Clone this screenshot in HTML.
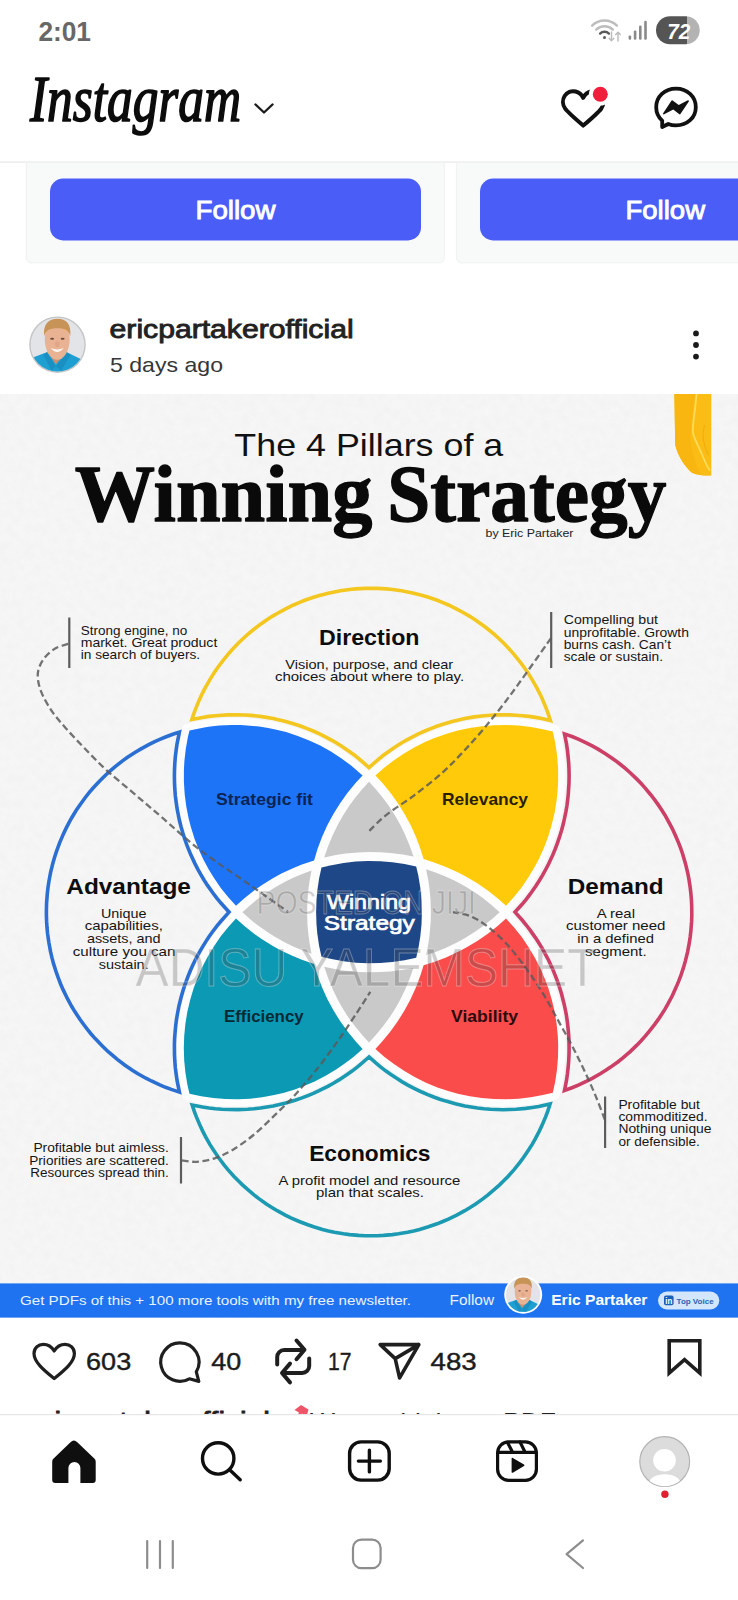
<!DOCTYPE html>
<html lang="en"><head><meta charset="utf-8"><title>Instagram</title>
<style>
html,body{margin:0;padding:0;background:#fff}
body{width:738px;height:1600px;overflow:hidden;position:relative;font-family:"Liberation Sans",sans-serif}
svg{position:absolute;left:0;top:0;display:block}
text{font-family:"Liberation Sans",sans-serif}
text.serif{font-family:"Liberation Serif",serif}
</style></head><body>
<svg width="738" height="1600" viewBox="0 0 738 1600">
<defs>
<clipPath id="imgclip"><rect x="0" y="394" width="738" height="924"/></clipPath>
<clipPath id="capclip"><rect x="0" y="1395" width="738" height="19.2"/></clipPath>
<clipPath id="batclip"><rect x="656" y="16.2" width="43.7" height="28.1" rx="14.05"/></clipPath>
<filter id="paper" x="0" y="0" width="100%" height="100%"><feTurbulence type="fractalNoise" baseFrequency="0.12" numOctaves="4" seed="7"/><feColorMatrix type="matrix" values="0 0 0 0 1  0 0 0 0 1  0 0 0 0 1  0.55 0 0 0 -0.12"/></filter>
</defs>

<g id="statusbar">
<text x="38.4" y="40.8" font-size="27.6" font-weight="700" fill="#676767" textLength="52.6" lengthAdjust="spacingAndGlyphs">2:01</text>
<g fill="none" stroke-linecap="round"><path d="M592.1,25.6 A17.5,17.5 0 0 1 616.9,25.6" stroke="#bdbdbd" stroke-width="2.4"/><path d="M596.2,29.6 A11.8,11.8 0 0 1 612.8,29.6" stroke="#bdbdbd" stroke-width="2.4"/><path d="M600.1,33.6 A6.2,6.2 0 0 1 608.9,33.6" stroke="#5a5a5a" stroke-width="2.4"/></g><circle cx="604.5" cy="37.6" r="1.5" fill="#5a5a5a"/>
<g fill="none" stroke="#bdbdbd" stroke-width="1.5" stroke-linecap="round" stroke-linejoin="round"><path d="M611.5,32 V40.5 M609.3,38.4 L611.5,40.8 L613.7,38.4"/><path d="M618,41 V32.5 M615.8,34.6 L618,32.2 L620.2,34.6"/></g>
<g fill="#8a8a8a"><rect x="628.6" y="35.4" width="2.6" height="4.4" rx="1.2"/><rect x="633.8" y="30.4" width="2.6" height="9.4" rx="1.2"/><rect x="639" y="25.6" width="2.6" height="14.2" rx="1.2"/><rect x="644.2" y="20.8" width="2.6" height="19" rx="1.2"/></g>
<g clip-path="url(#batclip)"><rect x="656" y="16" width="31" height="29" fill="#555555"/><rect x="687" y="16" width="13" height="29" fill="#b3b3b3"/></g>
<text x="667.2" y="38.6" font-size="22.5" font-weight="700" fill="#ffffff" textLength="23" lengthAdjust="spacingAndGlyphs" font-style="italic">72</text>
</g>
<g id="header">
<g transform="translate(0,120.6) scale(1,1.14) translate(0,-120.6)"><text x="30" y="120.6" font-size="57" font-weight="400" fill="#0c0c0c" textLength="211" lengthAdjust="spacingAndGlyphs" font-style="italic" class="serif" stroke="#0c0c0c" stroke-width="1.5" stroke-linejoin="round">Instagram</text></g>
<path d="M255.5,104.5 L264,112.5 L272.5,104.5" fill="none" stroke="#1a1a1a" stroke-width="2.4" stroke-linecap="round" stroke-linejoin="round"/>
<path d="M583.2,125.6 C583.2,125.6 568,112.6 565.2,108.7 C562.4,104.9 562.3,99.6 564.6,96 C567,92.2 571.5,90.5 575.6,91.5 C579,92.3 581.6,94.6 583.2,97.8 C584.8,94.6 587.4,92.3 590.8,91.5 C594.9,90.5 599.4,92.2 601.8,96 C604.1,99.6 604,104.9 601.2,108.7 C598.4,112.6 583.2,125.6 583.2,125.6 Z" fill="none" stroke="#111" stroke-width="4" stroke-linejoin="round"/>
<circle cx="600.3" cy="94.2" r="11.4" fill="#fff"/><circle cx="600.3" cy="94.2" r="7.5" fill="#f01f3c"/>
<path d="M676,88.6 C664.8,88.6 656.2,96.6 656.2,107.2 C656.2,112.6 658.4,117.2 662.2,120.6 L662.2,127 L668.2,124 C670.6,124.9 673.2,125.4 676,125.4 C687.2,125.4 695.8,117.6 695.8,107.2 C695.8,96.6 687.2,88.6 676,88.6 Z" fill="none" stroke="#111" stroke-width="3.8" stroke-linejoin="round"/>
<path d="M663.8,113.6 L672.2,101 L678.6,105.9 L688.2,101 L679.8,113.6 L673.4,108.7 Z" fill="#111" stroke="#111" stroke-width="1.5" stroke-linejoin="round"/>
<rect x="0" y="161.4" width="738" height="1.4" fill="#ebebeb"/>
</g>
<g id="cards">
<path d="M26.3,162.5 V257.9 a5,5 0 0 0 5,5 H439.3 a5,5 0 0 0 5,-5 V162.5 Z" fill="#f8f9f9" stroke="#f0f1f1" stroke-width="1"/>
<path d="M456.4,162.5 V257.9 a5,5 0 0 0 5,5 H760 V162.5 Z" fill="#f8f9f9" stroke="#f0f1f1" stroke-width="1"/>
<rect x="50" y="178.6" width="371" height="61.8" rx="13" fill="#4a5df7"/>
<rect x="480" y="178.6" width="300" height="61.8" rx="13" fill="#4a5df7"/>
<text x="195.5" y="219" font-size="26.5" font-weight="400" fill="#fff" textLength="80" lengthAdjust="spacingAndGlyphs" stroke="#fff" stroke-width="0.9">Follow</text>
<text x="625.5" y="219" font-size="26.5" font-weight="400" fill="#fff" textLength="79.5" lengthAdjust="spacingAndGlyphs" stroke="#fff" stroke-width="0.9">Follow</text>
</g>
<g id="posthead">
<clipPath id="avc1"><circle cx="0" cy="0" r="0.951"/></clipPath><circle cx="57.5" cy="344.7" r="28.3" fill="#c4c4c4"/><g transform="translate(57.5,344.7) scale(28.3)" clip-path="url(#avc1)"><rect x="-1" y="-1" width="2" height="2" fill="#e2e4e8"/><path d="M-1.05,0.62 L-0.87,0.45 L-0.38,0.27 L0.33,0.27 L0.80,0.50 L1.05,0.70 V1.1 H-1.05 Z" fill="#1e9fd2"/><path d="M-0.38,0.27 L-0.06,0.78 L-0.22,0.90 L-0.50,0.36 Z" fill="#1a90c2"/><path d="M0.33,0.27 L-0.06,0.78 L0.14,0.90 L0.46,0.36 Z" fill="#1a90c2"/><path d="M-0.30,0.20 L-0.32,0.30 L-0.06,0.70 L0.27,0.30 L0.26,0.20 Z" fill="#c98f72"/><ellipse cx="-0.01" cy="-0.19" rx="0.44" ry="0.72" fill="#e8b293"/><path d="M-0.47,-0.30 C-0.52,-0.75 -0.30,-0.92 0.0,-0.92 C0.30,-0.92 0.50,-0.75 0.45,-0.30 C0.40,-0.50 0.30,-0.58 0.0,-0.58 C-0.30,-0.58 -0.42,-0.50 -0.47,-0.30 Z" fill="#c79356"/><ellipse cx="-0.19" cy="-0.21" rx="0.07" ry="0.035" fill="#6b4a3a"/><ellipse cx="0.18" cy="-0.21" rx="0.07" ry="0.035" fill="#6b4a3a"/><ellipse cx="-0.01" cy="-0.02" rx="0.08" ry="0.10" fill="#e0a586"/><path d="M-0.24,0.12 Q-0.01,0.22 0.22,0.12 Q-0.01,0.40 -0.24,0.12 Z" fill="#fbf6f2"/></g>
<text x="109.6" y="337.8" font-size="25" font-weight="400" fill="#222" textLength="244" lengthAdjust="spacingAndGlyphs" stroke="#222" stroke-width="0.85">ericpartakerofficial</text>
<text x="110" y="371.6" font-size="21" font-weight="400" fill="#363636" textLength="113" lengthAdjust="spacingAndGlyphs">5 days ago</text>
<g fill="#1a1a1a"><circle cx="696" cy="333.4" r="2.9"/><circle cx="696" cy="345" r="2.9"/><circle cx="696" cy="356.6" r="2.9"/></g>
</g>
<g id="infographic" clip-path="url(#imgclip)">
<rect x="0" y="394" width="738" height="924" fill="#f3f3f3"/>
<rect x="0" y="394" width="738" height="924" filter="url(#paper)" opacity="0.9"/>
<path d="M674.4,394 H711.3 V475.4 C704,476.3 697.5,475.4 691.6,472.6 C684.5,466 678.2,456.5 675.2,445 Z" fill="#fbbc16"/>
<path d="M674.4,394 H695 C693.5,410 691,425 690.5,436 C690,448 695,462 700.5,474.8 C697,474.6 694,473.8 691.6,472.6 C684.5,466 678.2,456.5 675.2,445 Z" fill="#f9b510"/>
<path d="M696.6,394 C695.6,406 693.2,420 692.8,430 C692.4,437 697.2,441.7 703.7,458.5 C705.5,463 707.5,467 709.5,470" fill="none" stroke="#ffdc55" stroke-width="1.8" stroke-linecap="round"/>
<path d="M704.5,425 C701.5,436 703.5,446 708.5,455" fill="none" stroke="#eeaa06" stroke-width="1.1" opacity=".8"/>
<text x="234.3" y="455.6" font-size="31.5" font-weight="400" fill="#111" textLength="269" lengthAdjust="spacingAndGlyphs">The 4 Pillars of a</text>
<text x="74.8" y="520.6" font-size="80" font-weight="700" fill="#0a0a0a" textLength="297.5" lengthAdjust="spacingAndGlyphs" class="serif" stroke="#0a0a0a" stroke-width="1.3" stroke-linejoin="round">Winning</text>
<text x="387.3" y="520.6" font-size="80" font-weight="700" fill="#0a0a0a" textLength="279" lengthAdjust="spacingAndGlyphs" class="serif" stroke="#0a0a0a" stroke-width="1.3" stroke-linejoin="round">Strategy</text>
<text x="485.5" y="537.3" font-size="11.5" font-weight="400" fill="#222" textLength="88" lengthAdjust="spacingAndGlyphs">by Eric Partaker</text>
<path d="M181.0,735.1 178.7,747.6 177.3,760.2 176.6,772.9 176.7,782.5 177.5,795.2 179.2,807.8 181.0,817.2 184.1,829.6 188.0,841.6 192.6,853.5 198.1,865.0 202.7,873.4 209.4,884.1 216.8,894.5 224.8,904.3 232.1,912.1 222.8,922.4 214.9,932.3 207.6,942.8 201.1,953.7 195.3,965.0 190.2,976.7 185.9,988.7 182.4,1000.9 179.7,1013.3 177.9,1025.9 176.8,1038.6 176.6,1051.3 177.3,1064.1 178.7,1076.7 180.3,1086.1 181.7,1092.3 183.2,1098.4 183.9,1099.5 185.1,1100.1 193.6,1102.2 206.2,1104.4 218.8,1105.9 231.5,1106.5 244.3,1106.3 256.9,1105.3 269.5,1103.4 282.0,1100.7 294.2,1097.2 306.1,1093.0 317.8,1087.9 329.1,1082.1 340.0,1075.5 350.5,1068.3 360.5,1060.4 369.0,1052.7 380.0,1062.4 390.0,1070.2 400.6,1077.2 411.6,1083.6 423.0,1089.2 434.8,1094.1 446.8,1098.2 459.1,1101.5 471.6,1103.9 484.2,1105.6 496.9,1106.4 509.7,1106.4 522.4,1105.6 535.0,1103.9 541.2,1102.8 550.5,1100.7 557.3,1098.9 558.6,1098.1 559.2,1097.0 561.0,1089.2 562.8,1079.8 563.7,1073.5 565.0,1060.9 565.4,1048.2 565.0,1035.5 563.7,1022.8 561.7,1010.2 558.8,997.9 555.1,985.7 550.6,973.8 545.4,962.2 539.4,951.0 532.6,940.2 525.2,929.8 517.2,920.0 509.9,912.1 517.2,904.3 525.2,894.5 532.6,884.1 539.4,873.3 545.4,862.1 550.6,850.5 555.1,838.6 558.8,826.4 561.7,814.1 563.7,801.5 565.0,788.8 565.4,776.1 565.0,763.4 563.7,750.8 562.3,741.4 561.0,735.1 559.2,727.3 558.5,726.1 557.3,725.4 550.5,723.6 541.2,721.5 535.0,720.4 522.4,718.7 509.7,717.9 497.0,717.9 484.3,718.7 471.7,720.3 459.1,722.8 446.8,726.1 434.8,730.2 423.0,735.1 411.6,740.7 400.6,747.1 390.0,754.1 380.0,761.9 369.0,771.6 358.0,761.9 347.9,754.1 342.7,750.5 334.7,745.4 323.5,739.2 312.0,733.8 303.2,730.2 297.2,728.1 285.0,724.4 272.6,721.5 263.2,719.9 256.9,719.0 247.4,718.2 237.9,717.8 231.5,717.8 222.0,718.2 212.5,719.0 206.2,719.9 193.7,722.1 184.4,724.5 183.2,725.9Z" fill="#fdfdfd"/>
<path d="M550.4,720.5 547.9,712.9 545.7,707.1 542.1,698.6 539.5,693.1 536.7,687.6 532.1,679.6 527.2,671.8 523.7,666.7 520.0,661.8 514.2,654.6 508.1,647.7 503.8,643.3 499.4,639.0 494.9,634.9 487.8,629.0 482.9,625.3 475.4,620.0 470.2,616.6 464.9,613.5 456.8,609.1 448.5,605.0 442.9,602.6 437.2,600.3 428.5,597.3 422.6,595.5 413.7,593.2 407.6,591.9 401.6,590.8 392.5,589.5 386.4,588.9 377.1,588.4 371.0,588.3 364.9,588.4 355.6,588.9 349.5,589.5 340.4,590.8 334.4,591.9 328.3,593.2 319.4,595.5 313.5,597.3 304.8,600.3 299.1,602.6 293.5,605.0 285.2,609.1 277.1,613.5 271.8,616.6 266.6,620.0 259.1,625.3 254.2,629.0 249.5,632.9 244.8,637.0 238.2,643.3 231.8,650.0 227.8,654.6 222.0,661.8 218.3,666.7 214.8,671.8 209.9,679.6 205.3,687.6 202.5,693.1 198.6,701.4 196.3,707.1 194.1,712.9 191.9,719.4 202.5,717.4 208.9,716.4 215.4,715.7 221.8,715.2 228.2,714.9 237.9,714.8 244.4,715.0 250.8,715.4 257.3,716.0 263.7,716.9 273.2,718.5 279.5,719.9 285.8,721.5 295.1,724.2 301.2,726.3 307.2,728.6 313.2,731.0 319.1,733.7 324.9,736.6 330.6,739.6 336.2,742.8 341.7,746.2 349.7,751.7 354.9,755.5 359.9,759.6 369.0,767.5 378.1,759.6 383.1,755.5 388.3,751.7 396.3,746.2 401.8,742.8 407.4,739.6 413.1,736.6 418.9,733.7 424.8,731.0 430.8,728.6 436.8,726.3 442.9,724.2 452.2,721.5 458.5,719.9 464.8,718.5 474.3,716.9 484.0,715.7 490.4,715.2 496.8,714.9 503.3,714.8 509.8,714.9 516.2,715.2 522.6,715.7 529.1,716.4 535.5,717.4 541.8,718.5Z" fill="none" stroke="#f3c71f" stroke-width="3.6" stroke-linejoin="miter" stroke-miterlimit="12"/>
<path d="M174.2,733.8 165.5,737.0 159.8,739.4 154.2,741.9 148.7,744.7 140.6,749.1 135.3,752.2 127.5,757.3 122.5,760.9 115.2,766.6 110.5,770.6 106.0,774.7 99.4,781.2 93.1,788.0 89.1,792.7 85.3,797.5 79.9,805.0 76.4,810.1 71.6,818.0 68.6,823.4 65.8,828.9 63.2,834.4 59.6,842.9 56.4,851.6 54.5,857.5 52.8,863.4 50.6,872.4 48.9,881.5 48.0,887.6 47.3,893.7 46.6,902.9 46.4,909.1 46.4,915.2 46.6,921.4 47.0,927.5 47.6,933.7 48.9,942.8 50.6,951.9 52.0,957.9 53.6,963.9 56.4,972.7 58.5,978.5 60.7,984.2 63.2,989.9 67.2,998.2 71.6,1006.3 74.8,1011.6 79.9,1019.3 83.5,1024.3 87.2,1029.2 91.1,1034.0 95.2,1038.6 101.6,1045.3 108.2,1051.7 112.9,1055.7 117.6,1059.6 125.0,1065.2 132.7,1070.4 137.9,1073.7 145.9,1078.2 151.4,1081.0 159.8,1084.9 165.5,1087.3 171.3,1089.4 179.4,1092.1 177.0,1080.2 176.1,1073.8 175.3,1067.4 174.8,1061.0 174.5,1054.6 174.4,1044.9 174.6,1038.5 175.1,1032.1 175.7,1025.7 176.5,1019.3 177.6,1013.0 178.8,1006.6 181.1,997.3 182.9,991.1 184.8,985.0 188.2,975.9 190.6,970.0 193.3,964.1 196.1,958.3 199.2,952.6 202.4,947.1 205.8,941.6 209.3,936.3 213.1,931.0 217.0,925.9 221.1,921.0 229.0,912.1 221.1,903.3 217.0,898.4 213.1,893.3 207.5,885.4 204.0,880.0 200.7,874.4 197.6,868.8 194.7,863.1 190.6,854.3 187.0,845.4 184.8,839.3 182.9,833.2 181.1,827.0 179.5,820.8 178.2,814.5 177.0,808.2 176.1,801.8 175.3,795.4 174.8,789.0 174.5,782.6 174.4,776.1 174.5,769.7 174.8,763.3 175.3,756.9 176.1,750.5 177.0,744.1 179.4,732.2Z" fill="none" stroke="#2b6fd3" stroke-width="3.6" stroke-linejoin="miter" stroke-miterlimit="12"/>
<path d="M691.7,906.0 691.4,899.8 690.9,893.7 690.2,887.5 688.8,878.4 687.6,872.4 685.4,863.4 682.8,854.5 680.8,848.6 678.6,842.9 676.2,837.2 672.4,828.8 669.5,823.3 665.0,815.2 661.7,810.0 658.3,804.9 654.7,799.9 650.9,795.0 645.0,787.9 640.9,783.3 636.6,778.9 629.9,772.5 625.3,768.4 620.5,764.5 615.6,760.7 610.6,757.2 605.4,753.7 597.6,748.9 592.2,745.9 586.7,743.1 578.3,739.2 572.6,736.8 564.5,733.9 566.5,743.9 567.4,750.3 568.1,756.7 568.7,763.2 569.0,769.7 569.1,776.1 569.0,782.6 568.4,792.3 567.8,798.8 567.0,805.2 565.9,811.6 564.6,818.0 563.2,824.3 561.5,830.5 559.6,836.7 557.5,842.9 555.2,849.0 552.8,854.9 548.7,863.8 545.7,869.5 542.6,875.2 539.2,880.8 535.7,886.2 530.1,894.2 526.2,899.3 522.1,904.3 515.0,912.1 522.1,920.0 526.2,925.0 530.1,930.1 535.7,938.1 539.2,943.5 542.6,949.1 545.7,954.8 548.7,960.5 552.8,969.4 555.2,975.3 557.5,981.4 559.6,987.6 561.5,993.8 563.9,1003.2 565.3,1009.5 566.5,1015.9 567.4,1022.3 568.1,1028.7 568.7,1035.2 569.0,1041.7 569.1,1048.2 569.0,1054.6 568.7,1061.1 568.1,1067.6 567.4,1074.0 566.5,1080.4 564.5,1090.4 572.6,1087.5 578.3,1085.1 586.7,1081.2 592.2,1078.4 600.2,1073.8 605.4,1070.6 610.6,1067.1 618.1,1061.7 622.9,1057.9 629.9,1051.8 636.6,1045.4 640.9,1041.0 645.0,1036.4 649.0,1031.7 654.7,1024.4 658.3,1019.4 661.7,1014.3 665.0,1009.1 668.1,1003.7 672.4,995.5 676.2,987.1 678.6,981.4 680.8,975.7 683.7,966.9 685.4,960.9 687.6,951.9 689.3,942.9 690.2,936.8 690.9,930.6 691.6,921.4 691.8,915.2Z" fill="none" stroke="#cc3f66" stroke-width="3.6" stroke-linejoin="miter" stroke-miterlimit="12"/>
<path d="M369.0,1057.0 362.5,1062.7 357.5,1066.8 352.4,1070.8 347.1,1074.5 339.0,1079.9 333.4,1083.2 327.8,1086.3 319.1,1090.7 313.3,1093.4 307.3,1095.8 301.2,1098.1 295.1,1100.2 285.8,1102.9 279.5,1104.5 273.2,1105.9 266.9,1107.0 260.5,1108.0 254.1,1108.7 247.6,1109.2 237.9,1109.6 228.2,1109.5 221.8,1109.2 215.3,1108.7 208.9,1108.0 202.5,1107.0 192.2,1105.0 194.3,1111.4 196.5,1117.1 200.1,1125.6 202.7,1131.1 205.5,1136.6 210.0,1144.6 213.3,1149.8 218.5,1157.5 224.0,1164.8 227.9,1169.6 234.0,1176.4 238.3,1180.8 242.7,1185.1 249.6,1191.2 254.3,1195.1 259.2,1198.9 266.7,1204.2 271.9,1207.5 277.2,1210.7 285.3,1215.1 290.8,1217.8 299.2,1221.5 307.8,1224.8 313.6,1226.8 322.4,1229.4 328.4,1230.9 334.4,1232.2 343.5,1233.8 349.6,1234.6 358.7,1235.4 364.9,1235.7 371.0,1235.8 377.1,1235.7 383.3,1235.4 392.4,1234.6 398.5,1233.8 407.6,1232.2 413.6,1230.9 419.6,1229.4 428.4,1226.8 437.1,1223.8 442.8,1221.5 448.4,1219.1 456.7,1215.1 464.8,1210.7 470.1,1207.5 475.3,1204.2 482.8,1198.9 487.7,1195.1 494.7,1189.2 499.3,1185.1 503.7,1180.8 508.0,1176.4 514.1,1169.6 519.9,1162.4 523.5,1157.5 528.7,1149.8 532.0,1144.6 535.0,1139.3 539.3,1131.1 541.9,1125.6 545.5,1117.1 547.7,1111.4 550.1,1104.0 538.7,1106.5 532.3,1107.5 525.9,1108.4 516.2,1109.2 509.8,1109.5 503.3,1109.7 496.8,1109.5 490.4,1109.2 483.9,1108.7 477.5,1108.0 471.1,1107.0 464.8,1105.9 455.3,1103.7 446.0,1101.1 439.8,1099.2 433.7,1097.0 427.7,1094.6 421.8,1092.0 413.1,1087.8 407.4,1084.8 401.8,1081.6 396.3,1078.1 390.9,1074.5 385.6,1070.8 380.5,1066.8 375.5,1062.7Z" fill="none" stroke="#1b9ab2" stroke-width="3.6" stroke-linejoin="miter" stroke-miterlimit="12"/>
<path d="M188.0,736.6 185.8,748.7 184.4,760.9 183.9,770.0 183.9,782.3 184.7,794.5 186.3,806.6 188.7,818.7 191.0,827.6 194.7,839.2 199.2,850.6 203.1,858.9 208.9,869.7 213.7,877.6 220.6,887.7 228.3,897.3 236.0,905.8 244.1,898.5 254.1,890.6 262.0,885.0 272.9,878.3 281.4,873.6 292.9,868.2 301.9,864.5 314.1,860.4 317.5,849.0 322.0,837.0 327.3,825.3 333.4,814.1 340.1,803.2 347.6,792.7 355.8,782.8 362.6,775.4 351.1,765.5 341.2,758.2 330.9,751.6 320.2,745.6 309.2,740.4 297.8,735.9 286.1,732.1 274.2,729.2 268.2,728.0 259.1,726.6 246.9,725.4 240.8,725.1 231.6,725.0 219.4,725.6 210.3,726.6 204.2,727.5 189.5,730.5Z" fill="#1d74f7"/>
<path d="M375.4,775.4 382.2,782.8 390.4,792.7 397.9,803.2 404.6,814.1 410.7,825.3 416.0,837.0 420.5,849.0 423.6,859.1 434.1,862.4 446.0,866.9 457.7,872.2 466.3,876.7 477.3,883.3 487.8,890.5 497.9,898.5 506.0,905.8 513.7,897.3 521.4,887.7 528.3,877.6 534.6,867.1 538.9,858.9 544.0,847.8 548.3,836.3 551.8,824.6 554.6,812.7 556.6,800.6 557.8,788.4 558.2,779.2 558.0,767.0 557.0,754.8 555.2,742.6 552.8,731.6 542.8,729.2 530.8,727.0 518.6,725.6 506.4,725.0 494.1,725.2 481.9,726.2 469.8,728.0 457.8,730.6 446.0,733.9 434.5,738.1 426.0,741.6 415.1,747.1 404.4,753.2 394.3,760.0 384.5,767.4Z" fill="#ffca09"/>
<path d="M189.5,1093.8 201.2,1096.3 213.3,1098.1 225.5,1099.1 237.8,1099.3 250.0,1098.7 262.2,1097.3 274.2,1095.1 283.2,1093.0 294.9,1089.4 306.3,1085.1 314.7,1081.4 325.6,1075.8 336.1,1069.5 343.7,1064.3 353.5,1056.9 362.6,1048.9 355.8,1041.5 347.6,1031.6 340.1,1021.1 333.4,1010.2 327.3,998.9 322.0,987.3 317.5,975.3 314.1,963.9 301.9,959.8 292.9,956.1 281.4,950.7 272.9,946.0 262.0,939.3 254.1,933.7 244.1,925.8 236.0,918.5 228.3,927.0 220.6,936.6 213.7,946.7 207.4,957.2 201.8,968.1 196.9,979.4 193.7,988.0 190.2,999.7 187.4,1011.6 185.4,1023.7 184.2,1035.9 183.8,1048.2 184.2,1060.4 185.4,1072.6 187.4,1084.7Z" fill="#0c99b3"/>
<path d="M375.4,1048.9 384.5,1056.9 394.3,1064.3 404.4,1071.1 415.1,1077.2 426.0,1082.7 437.4,1087.4 449.0,1091.3 457.8,1093.7 469.8,1096.3 481.9,1098.1 494.1,1099.1 506.4,1099.3 518.6,1098.7 530.8,1097.3 542.8,1095.1 552.8,1092.7 555.2,1081.7 557.0,1069.5 558.0,1057.3 558.2,1045.1 557.8,1035.9 556.6,1023.7 554.6,1011.6 551.8,999.7 548.3,988.0 545.1,979.4 540.2,968.1 534.6,957.2 528.3,946.7 521.4,936.6 513.7,927.0 506.0,918.5 497.9,925.8 487.8,933.8 477.3,941.1 466.3,947.6 457.7,952.1 446.0,957.4 434.1,961.9 423.6,965.2 420.5,975.3 416.0,987.3 410.7,998.9 404.6,1010.2 397.9,1021.1 390.4,1031.6 382.2,1041.5Z" fill="#fb4c4c"/>
<path d="M324.2,857.6 335.8,855.1 345.4,853.6 358.1,852.4 367.8,852.0 380.6,852.2 390.3,852.9 402.9,854.6 413.5,856.6 409.9,846.2 405.2,834.9 401.2,826.6 395.3,815.9 388.6,805.6 383.2,798.2 375.4,788.7 369.0,781.7 362.6,788.7 354.8,798.2 349.4,805.6 342.7,815.9 338.2,823.9 332.8,834.9 328.1,846.2Z" fill="#c9c9c9"/>
<path d="M324.2,966.7 328.1,978.1 332.8,989.4 338.2,1000.4 342.7,1008.4 347.6,1016.2 354.8,1026.1 362.6,1035.6 369.0,1042.6 375.4,1035.6 383.2,1026.1 390.4,1016.2 395.3,1008.4 399.8,1000.4 405.2,989.4 409.9,978.1 413.5,967.7 402.9,969.7 390.3,971.4 380.6,972.1 367.8,972.3 358.1,971.9 345.4,970.7 335.8,969.2Z" fill="#c9c9c9"/>
<path d="M242.4,912.2 249.9,918.9 257.0,924.7 267.0,931.8 274.8,936.7 285.5,942.7 293.7,946.7 302.2,950.2 311.5,953.7 309.7,944.1 308.4,934.5 307.5,924.9 307.1,912.2 307.3,902.5 308.4,889.8 309.7,880.2 311.5,870.6 302.2,874.1 293.7,877.6 285.5,881.6 274.8,887.6 267.0,892.5 257.0,899.6 249.9,905.4Z" fill="#c9c9c9"/>
<path d="M426.1,955.0 436.9,951.4 445.5,947.9 456.5,942.7 464.6,938.3 475.0,931.8 482.5,926.5 492.1,918.9 499.6,912.2 492.1,905.4 482.5,897.8 475.0,892.5 464.6,886.0 453.8,880.3 445.5,876.4 436.9,872.9 426.1,869.3 428.3,880.2 429.6,889.8 430.5,899.4 430.9,912.1 430.7,921.8 429.6,934.5 428.3,944.1Z" fill="#c9c9c9"/>
<path d="M321.5,956.7 331.5,959.1 343.5,961.3 355.7,962.7 367.9,963.3 380.2,963.1 392.4,962.1 404.5,960.3 416.2,957.8 418.3,948.7 420.3,936.6 421.5,924.4 421.9,912.1 421.5,899.9 420.3,887.7 418.3,875.6 416.2,866.5 404.5,864.0 392.4,862.2 380.2,861.2 367.9,861.0 355.7,861.6 343.5,863.0 331.5,865.2 321.5,867.6 319.1,878.6 317.3,890.8 316.5,899.9 316.1,912.1 316.5,924.4 317.3,933.5 319.1,945.7Z" fill="#1e4788"/>
<path d="M68.2,643.8 C66.0,644.6 59.2,646.1 55.2,648.5 C51.2,650.9 47.2,654.4 44.4,658 C41.6,661.6 39.4,666.0 38.4,670 C37.4,674.0 37.6,678.0 38.4,682.3 C39.2,686.6 40.6,690.9 43,695.9 C45.4,700.9 48.7,706.7 52.5,712.1 C56.3,717.5 60.6,722.3 66,728.4 C71.4,734.5 78.2,741.7 85,748.7 C91.8,755.7 98.6,763.0 106.7,770.4 C114.8,777.8 124.8,785.7 133.8,793.4 C142.8,801.1 149.9,807.1 160.9,816.5 C171.9,825.9 185.2,838.6 200,850 C214.8,861.4 235.3,874.7 250,885 C264.7,895.3 281.7,907.5 288,912" fill="none" stroke="#5a5a5a" stroke-opacity="0.85" stroke-width="2.3" stroke-dasharray="6.8 3.6"/>
<path d="M551,638.1 C547.2,643.5 535.5,660.3 528,670.7 C520.5,681.1 513.5,691.0 506.3,700.5 C499.1,710.0 491.9,719.0 484.7,727.6 C477.5,736.2 470.2,744.3 463,752 C455.8,759.7 449.4,766.4 441.3,773.6 C433.2,780.8 423.2,788.5 414.2,795.3 C405.2,802.1 394.6,808.4 387.1,814.3 C379.6,820.2 372.3,828.0 369.4,830.8" fill="none" stroke="#5a5a5a" stroke-opacity="0.85" stroke-width="2.3" stroke-dasharray="6.8 3.6"/>
<path d="M604.8,1119.5 C603.2,1115.4 598.9,1103.7 595.3,1095.1 C591.7,1086.5 587.2,1076.6 583.1,1068 C579.0,1059.4 575.2,1051.7 570.9,1043.6 C566.6,1035.5 561.9,1027.3 557.4,1019.2 C552.9,1011.1 548.8,1003.0 543.8,994.9 C538.8,986.8 533.5,978.6 527.6,970.5 C521.7,962.4 515.1,953.3 508.6,946.1 C502.1,938.9 494.6,932.1 488.3,927.1 C482.0,922.1 476.6,918.8 470.7,916.3 C464.8,913.8 455.9,912.9 453,912.2" fill="none" stroke="#5a5a5a" stroke-opacity="0.85" stroke-width="2.3" stroke-dasharray="6.8 3.6"/>
<path d="M181.9,1160.4 C184.4,1160.6 191.3,1162.2 196.8,1161.8 C202.3,1161.4 208.7,1160.3 214.7,1158.3 C220.7,1156.3 226.1,1153.8 232.6,1149.9 C239.1,1146.0 246.6,1140.7 253.5,1135 C260.4,1129.3 267.4,1122.3 274.3,1115.6 C281.2,1108.9 287.8,1103.0 295.2,1094.8 C302.6,1086.6 311.6,1076.0 319,1066.5 C326.4,1057.0 333.4,1047.3 339.9,1038.1 C346.4,1028.9 352.7,1019.0 357.8,1011.3 C362.9,1003.6 368.2,995.1 370.3,991.9" fill="none" stroke="#5a5a5a" stroke-opacity="0.85" stroke-width="2.3" stroke-dasharray="6.8 3.6"/>
<g stroke="#5c5c5c" stroke-width="2.2"><path d="M69.3,617.5 V668 M551.2,612 V668 M181,1137 V1183.5 M605.1,1096.4 V1148"/></g>
<text x="80.7" y="635.4" font-size="13.2" font-weight="400" fill="#151515" textLength="106.6" lengthAdjust="spacingAndGlyphs">Strong engine, no</text>
<text x="80.7" y="647.2" font-size="13.2" font-weight="400" fill="#151515" textLength="136.6" lengthAdjust="spacingAndGlyphs">market. Great product</text>
<text x="80.7" y="659" font-size="13.2" font-weight="400" fill="#151515" textLength="119.5" lengthAdjust="spacingAndGlyphs">in search of buyers.</text>
<text x="563.7" y="624.4" font-size="13.2" font-weight="400" fill="#151515" textLength="94.3" lengthAdjust="spacingAndGlyphs">Compelling but</text>
<text x="563.7" y="636.6" font-size="13.2" font-weight="400" fill="#151515" textLength="125.3" lengthAdjust="spacingAndGlyphs">unprofitable. Growth</text>
<text x="563.7" y="648.8" font-size="13.2" font-weight="400" fill="#151515" textLength="107.3" lengthAdjust="spacingAndGlyphs">burns cash. Can’t</text>
<text x="563.7" y="661" font-size="13.2" font-weight="400" fill="#151515" textLength="99.3" lengthAdjust="spacingAndGlyphs">scale or sustain.</text>
<text x="168.8" y="1152.3" font-size="13.2" font-weight="400" fill="#151515" text-anchor="end" textLength="135.4" lengthAdjust="spacingAndGlyphs">Profitable but aimless.</text>
<text x="168.8" y="1164.5" font-size="13.2" font-weight="400" fill="#151515" text-anchor="end" textLength="139.5" lengthAdjust="spacingAndGlyphs">Priorities are scattered.</text>
<text x="168.8" y="1176.7" font-size="13.2" font-weight="400" fill="#151515" text-anchor="end" textLength="138.6" lengthAdjust="spacingAndGlyphs">Resources spread thin.</text>
<text x="618.4" y="1108.9" font-size="13.2" font-weight="400" fill="#151515" textLength="81.5" lengthAdjust="spacingAndGlyphs">Profitable but</text>
<text x="618.4" y="1121" font-size="13.2" font-weight="400" fill="#151515" textLength="89.2" lengthAdjust="spacingAndGlyphs">commoditized.</text>
<text x="618.4" y="1133.4" font-size="13.2" font-weight="400" fill="#151515" textLength="93.1" lengthAdjust="spacingAndGlyphs">Nothing unique</text>
<text x="618.4" y="1145.6" font-size="13.2" font-weight="400" fill="#151515" textLength="81.5" lengthAdjust="spacingAndGlyphs">or defensible.</text>
<text x="319" y="644.8" font-size="21.6" font-weight="700" fill="#0d0d0d" textLength="100.5" lengthAdjust="spacingAndGlyphs">Direction</text>
<text x="285.3" y="668.7" font-size="13.4" font-weight="400" fill="#151515" textLength="167.9" lengthAdjust="spacingAndGlyphs">Vision, purpose, and clear</text>
<text x="274.9" y="681.2" font-size="13.4" font-weight="400" fill="#151515" textLength="189.3" lengthAdjust="spacingAndGlyphs">choices about where to play.</text>
<text x="66.3" y="894.3" font-size="21.6" font-weight="700" fill="#0d0d0d" textLength="124.6" lengthAdjust="spacingAndGlyphs">Advantage</text>
<text x="101" y="917.7" font-size="13.4" font-weight="400" fill="#151515" textLength="45.5" lengthAdjust="spacingAndGlyphs">Unique</text>
<text x="84.7" y="930.2" font-size="13.4" font-weight="400" fill="#151515" textLength="78.1" lengthAdjust="spacingAndGlyphs">capabilities,</text>
<text x="86.9" y="943" font-size="13.4" font-weight="400" fill="#151515" textLength="73.7" lengthAdjust="spacingAndGlyphs">assets, and</text>
<text x="72.8" y="955.7" font-size="13.4" font-weight="400" fill="#151515" textLength="102.6" lengthAdjust="spacingAndGlyphs">culture you can</text>
<text x="98.8" y="968.5" font-size="13.4" font-weight="400" fill="#151515" textLength="49.9" lengthAdjust="spacingAndGlyphs">sustain.</text>
<text x="567.8" y="894.3" font-size="21.6" font-weight="700" fill="#0d0d0d" textLength="95.8" lengthAdjust="spacingAndGlyphs">Demand</text>
<text x="596.8" y="917.7" font-size="13.4" font-weight="400" fill="#151515" textLength="38.2" lengthAdjust="spacingAndGlyphs">A real</text>
<text x="566" y="930.2" font-size="13.4" font-weight="400" fill="#151515" textLength="99.4" lengthAdjust="spacingAndGlyphs">customer need</text>
<text x="577.3" y="943" font-size="13.4" font-weight="400" fill="#151515" textLength="76.6" lengthAdjust="spacingAndGlyphs">in a defined</text>
<text x="585.1" y="955.7" font-size="13.4" font-weight="400" fill="#151515" textLength="61.6" lengthAdjust="spacingAndGlyphs">segment.</text>
<text x="309.2" y="1161.3" font-size="21.6" font-weight="700" fill="#0d0d0d" textLength="121.3" lengthAdjust="spacingAndGlyphs">Economics</text>
<text x="278.5" y="1184.6" font-size="13.4" font-weight="400" fill="#151515" textLength="181.8" lengthAdjust="spacingAndGlyphs">A profit model and resource</text>
<text x="316" y="1197.1" font-size="13.4" font-weight="400" fill="#151515" textLength="108" lengthAdjust="spacingAndGlyphs">plan that scales.</text>
<text x="216" y="804.6" font-size="16.2" font-weight="700" fill="#0c2454" textLength="97" lengthAdjust="spacingAndGlyphs">Strategic fit</text>
<text x="442" y="804.6" font-size="16.2" font-weight="700" fill="#2a1e00" textLength="86" lengthAdjust="spacingAndGlyphs">Relevancy</text>
<text x="224" y="1021.9" font-size="16.2" font-weight="700" fill="#062a33" textLength="79.7" lengthAdjust="spacingAndGlyphs">Efficiency</text>
<text x="451" y="1021.9" font-size="16.2" font-weight="700" fill="#2c0a0a" textLength="67" lengthAdjust="spacingAndGlyphs">Viability</text>
<text x="369" y="908.8" font-size="21" font-weight="400" fill="#fff" text-anchor="middle" textLength="84" lengthAdjust="spacingAndGlyphs" stroke="#fff" stroke-width="0.7">Winning</text>
<text x="369.3" y="929.6" font-size="21" font-weight="400" fill="#fff" text-anchor="middle" textLength="91" lengthAdjust="spacingAndGlyphs" stroke="#fff" stroke-width="0.7">Strategy</text>
<text x="256.5" y="914" font-size="33" font-weight="400" fill="#4a4a4a" textLength="219.5" lengthAdjust="spacingAndGlyphs" fill-opacity="0.27" stroke="#fff" stroke-opacity="0.3" stroke-width="1">POSTED ON JIJI</text>
<text x="135.5" y="986" font-size="53.5" font-weight="400" fill="#4a4a4a" textLength="462" lengthAdjust="spacingAndGlyphs" fill-opacity="0.27" stroke="#fff" stroke-opacity="0.3" stroke-width="1">ADISU YALEMSHET</text>
<rect x="0" y="1283.4" width="738" height="34.2" fill="#1f73f1"/>
<text x="20" y="1305" font-size="13.6" font-weight="400" fill="#eaf2ff" textLength="391" lengthAdjust="spacingAndGlyphs">Get PDFs of this + 100 more tools with my free newsletter.</text>
<text x="449.5" y="1305" font-size="14.6" font-weight="400" fill="#eaf2ff" textLength="44.5" lengthAdjust="spacingAndGlyphs">Follow</text>
<clipPath id="avc2"><circle cx="0" cy="0" r="0.905"/></clipPath><circle cx="523.2" cy="1294.8" r="19" fill="#ffffff"/><g transform="translate(523.2,1294.8) scale(19)" clip-path="url(#avc2)"><rect x="-1" y="-1" width="2" height="2" fill="#e2e4e8"/><path d="M-1.05,0.62 L-0.87,0.45 L-0.38,0.27 L0.33,0.27 L0.80,0.50 L1.05,0.70 V1.1 H-1.05 Z" fill="#1e9fd2"/><path d="M-0.38,0.27 L-0.06,0.78 L-0.22,0.90 L-0.50,0.36 Z" fill="#1a90c2"/><path d="M0.33,0.27 L-0.06,0.78 L0.14,0.90 L0.46,0.36 Z" fill="#1a90c2"/><path d="M-0.30,0.20 L-0.32,0.30 L-0.06,0.70 L0.27,0.30 L0.26,0.20 Z" fill="#c98f72"/><ellipse cx="-0.01" cy="-0.19" rx="0.44" ry="0.72" fill="#e8b293"/><path d="M-0.47,-0.30 C-0.52,-0.75 -0.30,-0.92 0.0,-0.92 C0.30,-0.92 0.50,-0.75 0.45,-0.30 C0.40,-0.50 0.30,-0.58 0.0,-0.58 C-0.30,-0.58 -0.42,-0.50 -0.47,-0.30 Z" fill="#c79356"/><ellipse cx="-0.19" cy="-0.21" rx="0.07" ry="0.035" fill="#6b4a3a"/><ellipse cx="0.18" cy="-0.21" rx="0.07" ry="0.035" fill="#6b4a3a"/><ellipse cx="-0.01" cy="-0.02" rx="0.08" ry="0.10" fill="#e0a586"/><path d="M-0.24,0.12 Q-0.01,0.22 0.22,0.12 Q-0.01,0.40 -0.24,0.12 Z" fill="#fbf6f2"/></g>
<text x="551.2" y="1305" font-size="15.2" font-weight="700" fill="#fff" textLength="96.2" lengthAdjust="spacingAndGlyphs">Eric Partaker</text>
<rect x="658" y="1291.6" width="61.3" height="17.8" rx="8.9" fill="#d3e6fc"/>
<rect x="664" y="1295.6" width="9.6" height="9.6" rx="1.8" fill="#1b5fb8"/>
<text x="665.3" y="1303.6" font-size="8.2" font-weight="700" fill="#fff" textLength="7" lengthAdjust="spacingAndGlyphs">in</text>
<text x="676.6" y="1303.6" font-size="8" font-weight="700" fill="#2a62b5" textLength="37" lengthAdjust="spacingAndGlyphs">Top Voice</text>
</g>
<g id="actions" fill="none" stroke="#1f1f1f" stroke-width="3.2" stroke-linejoin="round" stroke-linecap="round">
<path d="M54.2,1378.6 C45,1371 34,1362.5 34,1353.5 C34,1347.5 38.6,1344.4 43.3,1344.4 C48,1344.4 51.8,1347 54.2,1351 C56.6,1347 60.4,1344.4 65.1,1344.4 C69.8,1344.4 74.4,1347.5 74.4,1353.5 C74.4,1362.5 63.4,1371 54.2,1378.6 Z"/>
<path d="M179.7,1342.9 A19.2,19.2 0 1 0 189.4,1378.8 L198.8,1381.4 L196.3,1371.9 A19.2,19.2 0 0 0 179.7,1342.9 Z"/>
<path stroke-width="4" d="M277.2,1364.5 V1357 a7,7 0 0 1 7,-7 H303.5 M296.5,1340.5 L304.5,1349.8 L296.5,1359.2 M309.2,1358.5 V1366 a7,7 0 0 1 -7,7 H283 M290,1363.6 L282,1373 L290,1382.4"/>
<path stroke-width="3.6" d="M380.2,1344.6 H418.8 L399.6,1377.9 L395.2,1358.6 Z M395.2,1358.6 L418.8,1344.6"/>
<path stroke-width="3.6" d="M669.2,1340.7 H699.8 V1373 L684.5,1359.6 L669.2,1373 Z" stroke-linejoin="miter"/>
</g>
<text x="86" y="1369.6" font-size="23.2" font-weight="400" fill="#1c1c1c" textLength="45.2" lengthAdjust="spacingAndGlyphs" stroke="#1c1c1c" stroke-width="0.4">603</text>
<text x="211.2" y="1369.6" font-size="23.2" font-weight="400" fill="#1c1c1c" textLength="30" lengthAdjust="spacingAndGlyphs" stroke="#1c1c1c" stroke-width="0.4">40</text>
<text x="328" y="1369.6" font-size="23.2" font-weight="400" fill="#1c1c1c" textLength="23.5" lengthAdjust="spacingAndGlyphs" stroke="#1c1c1c" stroke-width="0.4">17</text>
<text x="430.5" y="1369.6" font-size="23.2" font-weight="400" fill="#1c1c1c" textLength="46.2" lengthAdjust="spacingAndGlyphs" stroke="#1c1c1c" stroke-width="0.4">483</text>
<g clip-path="url(#capclip)">
<text x="27.9" y="1429.6" font-size="25" font-weight="400" fill="#222" textLength="242" lengthAdjust="spacingAndGlyphs" stroke="#222" stroke-width="0.85">ericpartakerofficial</text>
<path d="M301,1405 l7.5,4.5 l-2,7 l-4.5,-3 l-5,8 l-2,-1 l4,-8 l-4.5,-2.5 Z" fill="#ee5568"/>
<text x="310" y="1429.6" font-size="24.5" font-weight="400" fill="#222" textLength="246" lengthAdjust="spacingAndGlyphs">Want a high-res PDF</text>
</g>
<g id="bottomnav">
<rect x="0" y="1414.2" width="738" height="186" fill="#fff"/>
<rect x="0" y="1414" width="738" height="1.2" fill="#e6e6e6"/>
<path d="M55.2,1483 a3,3 0 0 1 -3,-3 V1461.5 a4,4 0 0 1 1.4,-3 L70.5,1442.2 a5,5 0 0 1 6.8,0 L94.3,1458.5 a4,4 0 0 1 1.4,3 V1480 a3,3 0 0 1 -3,3 H80.4 V1468 a6,6 0 0 0 -12,0 V1483 Z" fill="#0f0f0f"/>
<g fill="none" stroke="#0f0f0f" stroke-width="3.4" stroke-linecap="round"><circle cx="218.2" cy="1458.4" r="15.7"/><path d="M229.6,1469.8 L240.2,1479.8"/></g>
<g fill="none" stroke="#0f0f0f" stroke-width="3.4" stroke-linecap="round"><rect x="349.6" y="1441.9" width="39.6" height="38.2" rx="11.5"/><path d="M369.4,1450.3 V1471.9 M358.4,1461.1 H380.4"/></g>
<g fill="none" stroke="#0f0f0f" stroke-width="3.2" stroke-linecap="round" stroke-linejoin="round"><rect x="497.6" y="1441.9" width="38.8" height="38.4" rx="11"/><path d="M498,1452.4 H536 M507.5,1442.5 L512.5,1452 M520,1442 L525,1452"/></g>
<path d="M512.4,1458.6 L523.6,1465.3 L512.4,1472 Z" fill="#0f0f0f" stroke="#0f0f0f" stroke-width="1.6" stroke-linejoin="round"/>
<clipPath id="pf"><circle cx="664.7" cy="1461.6" r="24.6"/></clipPath>
<circle cx="664.7" cy="1461.6" r="24.9" fill="#dcdcdc" stroke="#b4b4b4" stroke-width="1.2"/>
<g clip-path="url(#pf)" fill="#fff"><circle cx="664.5" cy="1460.2" r="11.3"/><path d="M646,1490 C648,1478 655,1474.3 664.7,1474.3 C674.5,1474.3 681.5,1478 683.5,1490 Z"/></g>
<circle cx="664.9" cy="1494.2" r="3.7" fill="#e0202f"/>
<g fill="none" stroke="#8d8d8d" stroke-width="2.2" stroke-linecap="round" stroke-linejoin="round"><path d="M147.2,1541 V1568 M160,1541 V1568 M172.8,1541 V1568"/><rect x="353" y="1539.6" width="27.6" height="28.6" rx="8.5"/><path d="M583,1540.4 L566.6,1554.2 L583,1568"/></g>
</g>
</svg>
</body></html>
